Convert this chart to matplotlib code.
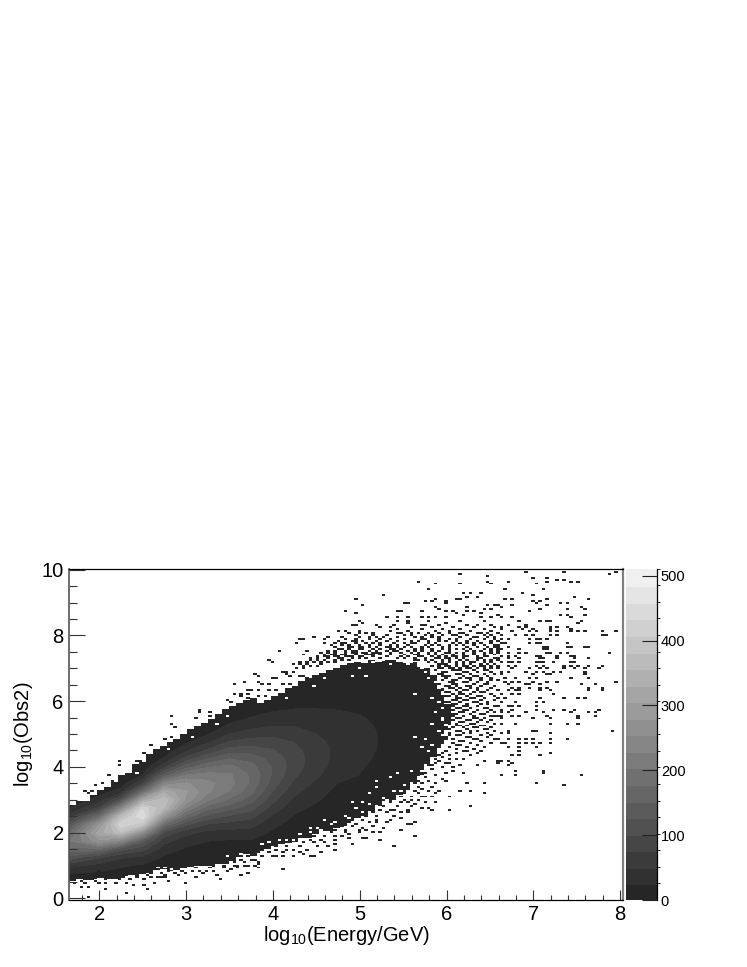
import numpy as np
import matplotlib
matplotlib.use("Agg")
import matplotlib.pyplot as plt
from matplotlib.colors import ListedColormap, BoundaryNorm
from matplotlib.patches import Polygon

plt.rcParams["font.family"] = ["Liberation Sans", "DejaVu Sans"]
plt.rcParams["mathtext.default"] = "regular"

# --- histogram binning / colour scale
X_BIN = 0.04
Y_BIN = 0.06
Z_MAX = 511
N_LEVELS = 20

# --- smooth core of the distribution, counts
core_y = [0.25, 0.5, 0.75, 1, 1.25, 1.5, 1.75, 2, 2.25, 2.5, 2.75, 3, 3.25, 3.5, 3.75,
          4, 4.25, 4.5, 4.75, 5, 5.25, 5.5, 5.75, 6, 6.25, 6.5, 6.75, 7, 7.25, 7.5]
core_x = [1.65, 2.0, 2.25, 2.5, 2.75, 3.0, 3.25, 3.5, 3.75, 4.0, 4.25, 4.5, 4.75, 5.0, 5.25, 6.25]
core_counts = [
    [2, 8, 24, 60, 118, 172, 200, 172, 118, 60, 24, 8, 2, 0, 0, 0, 0, 0, 0, 0, 0, 0, 0, 0, 0, 0, 0, 0, 0, 0],
    [0, 8, 20, 42, 80, 173, 274, 320, 274, 173, 80, 35, 15, 3, 0, 0, 0, 0, 0, 0, 0, 0, 0, 0, 0, 0, 0, 0, 0, 0],
    [0, 4, 12, 30, 55, 110, 240, 375, 430, 365, 235, 110, 36, 10, 3, 0, 0, 0, 0, 0, 0, 0, 0, 0, 0, 0, 0, 0, 0, 0],
    [0, 2, 8, 22, 45, 85, 135, 256, 388, 460, 428, 312, 174, 77, 26, 7, 0, 0, 0, 0, 0, 0, 0, 0, 0, 0, 0, 0, 0, 0],
    [0, 0, 4, 12, 22, 38, 60, 94, 176, 275, 355, 375, 325, 235, 140, 68, 29, 10, 3, 0, 0, 0, 0, 0, 0, 0, 0, 0, 0, 0],
    [0, 0, 3, 8, 14, 22, 36, 60, 107, 168, 228, 274, 284, 259, 205, 142, 87, 46, 21, 9, 3, 0, 0, 0, 0, 0, 0, 0, 0, 0],
    [0, 0, 2, 6, 10, 16, 26, 42, 74, 118, 163, 209, 235, 238, 216, 175, 127, 82, 48, 24, 11, 5, 2, 0, 0, 0, 0, 0, 0, 0],
    [0, 0, 0, 4, 6, 12, 23, 41, 67, 99, 138, 174, 202, 215, 209, 187, 153, 114, 80, 51, 29, 16, 8, 3, 0, 0, 0, 0, 0, 0],
    [0, 0, 0, 2, 7, 14, 24, 39, 60, 84, 112, 138, 161, 173, 174, 163, 144, 117, 89, 64, 42, 26, 16, 8, 4, 2, 0, 0, 0, 0],
    [0, 0, 0, 0, 0, 7, 12, 21, 32, 47, 65, 84, 101, 115, 124, 125, 117, 104, 88, 69, 50, 35, 22, 14, 8, 4, 2, 0, 0, 0],
    [0, 0, 0, 0, 0, 0, 6, 10, 15, 23, 33, 45, 58, 70, 81, 88, 90, 85, 76, 63, 50, 37, 26, 17, 11, 6, 3, 2, 0, 0],
    [0, 0, 0, 0, 0, 0, 0, 7, 10, 14, 20, 28, 35, 46, 55, 60, 62, 61, 57, 51, 42, 34, 26, 19, 13, 9, 5, 3, 0, 0],
    [0, 0, 0, 0, 0, 0, 0, 0, 5, 8, 11, 15, 19, 25, 35, 41, 44, 45, 44, 41, 36, 31, 25, 19, 14, 9, 6, 4, 2, 0],
    [0, 0, 0, 0, 0, 0, 0, 0, 0, 0, 6, 9, 13, 19, 25, 28, 31, 33, 33, 32, 30, 27, 23, 18, 14, 10, 7, 5, 3, 0],
    [0, 0, 0, 0, 0, 0, 0, 0, 0, 0, 0, 6, 9, 12, 15, 18, 21, 23, 24, 24, 23, 21, 18, 14, 11, 8, 5, 3, 0, 0],
    [0, 0, 0, 0, 0, 0, 0, 0, 0, 0, 0, 0, 0, 0, 0, 0, 0, 0, 0, 0, 0, 0, 0, 0, 0, 0, 0, 0, 0, 0],
]

# --- outline of the filled body, one entry every two bins
body_x = [1.655, 1.735, 1.815, 1.895, 1.975, 2.055, 2.135, 2.215, 2.295, 2.375, 2.455, 2.535, 2.615, 2.695,
          2.775, 2.855, 2.935, 3.015, 3.095, 3.175, 3.255, 3.335, 3.415, 3.495, 3.575, 3.655, 3.735, 3.815,
          3.895, 3.975, 4.055, 4.135, 4.215, 4.295, 4.375, 4.455, 4.535, 4.615, 4.695, 4.775, 4.855, 4.935,
          5.015, 5.095, 5.175, 5.255, 5.335, 5.415, 5.495, 5.575, 5.655, 5.735, 5.815, 5.895, 5.975]
body_top = [2.85, 2.95, 2.95, 3.15, 3.3, 3.38, 3.55, 3.75, 3.8, 4.1, 4.2, 4.4, 4.55, 4.65,
            4.75, 4.85, 5.0, 5.15, 5.25, 5.35, 5.45, 5.6, 5.75, 5.85, 5.95, 6.05, 6.1, 5.95,
            6.05, 6.15, 6.25, 6.4, 6.45, 6.6, 6.7, 6.8, 6.85, 6.95, 7.0, 7.1, 7.15, 7.2,
            7.2, 7.25, 7.2, 7.25, 7.25, 7.2, 7.15, 7.2, 7.05, 7.0, 6.8, 6.4, 5.9]
body_bottom = [0.52, 0.58, 0.55, 0.6, 0.62, 0.58, 0.6, 0.62, 0.7, 0.7, 0.74, 0.78, 0.85, 0.88,
               0.82, 0.85, 0.92, 0.95, 0.98, 1.0, 0.98, 1.05, 1.05, 1.15, 1.25, 1.35, 1.3, 1.45,
               1.5, 1.6, 1.65, 1.68, 1.72, 1.85, 1.85, 1.95, 2.05, 2.05, 2.15, 2.2, 2.35, 2.45,
               2.5, 2.65, 2.8, 2.95, 3.0, 3.15, 3.3, 3.55, 3.75, 4.1, 4.3, 4.7, 5.3]

# --- empty bins inside the body
hole_x = [4.93, 5.04, 5.08, 5.16, 5.2, 5.27, 5.35, 5.58, 5.56, 5.73, 5.77, 5.85, 5.91, 5.96, 4.93, 5.08, 5.0,
          4.6, 4.49, 4.15, 5.65, 5.94, 5.64, 5.91, 5.94, 5.73, 5.83, 5.45, 5.35, 5.18, 5.18, 5.12, 5.41, 5.31,
          5.2, 5.04, 4.93, 4.95, 5.04, 5.18, 4.82, 4.74, 4.58, 4.68, 4.54, 4.61, 4.43, 4.43, 4.08, 4.24, 3.89,
          5.58, 5.7, 5.73, 5.66, 2.68, 2.74, 2.51, 2.42, 3.47, 3.62, 3.16, 3.08, 2.82, 2.8, 3.06, 2.91, 3.36,
          3.47, 3.26, 3.16, 5.78, 5.86, 5.92, 5.96, 5.82, 5.9, 5.94, 5.88, 5.95, 5.84, 5.9, 5.96, 5.76, 5.8,
          5.5, 5.6, 5.46, 5.38, 5.28, 5.12, 5.0, 4.86, 4.72, 4.5, 4.32, 4.16, 3.96, 3.78]
hole_y = [7.22, 7.18, 7.18, 7.18, 7.3, 7.22, 7.12, 7.2, 7.12, 6.98, 6.9, 6.95, 6.82, 6.67, 6.78, 6.78, 6.98,
          6.72, 6.47, 6.08, 6.21, 6.29, 4.92, 5.07, 5.43, 4.62, 4.67, 3.82, 3.72, 3.58, 3.38, 3.24, 3.19, 3.0,
          2.94, 2.94, 2.89, 2.74, 2.64, 2.79, 2.48, 2.33, 2.36, 2.23, 2.08, 2.03, 2.16, 2.03, 1.77, 1.77, 1.65,
          3.65, 3.85, 4.0, 4.1, 0.91, 0.91, 4.18, 3.82, 1.27, 1.37, 0.96, 0.96, 0.88, 4.53, 4.87, 4.87, 5.32,
          5.58, 5.48, 5.48, 6.7, 6.55, 6.4, 6.22, 6.1, 5.95, 5.8, 5.65, 5.5, 5.3, 5.15, 4.98, 4.82, 4.5,
          3.45, 3.9, 3.3, 3.25, 3.05, 2.85, 2.6, 2.45, 2.3, 2.12, 1.95, 1.8, 1.7, 1.5]

# --- isolated filled bins: (y, [x, ...]) rows
far_rows = [
    (9.95, [6.93, 7.34, 7.94]), (9.88, [6.14, 7.86]), (9.81, [6.49]), (9.75, [6.99, 7.15]),
    (9.68, [7.26, 7.34]), (9.63, [5.69, 6.47, 6.73, 7.15, 7.45, 7.53]), (9.55, [5.88, 6.17, 7.03, 6.51]),
    (9.37, [5.8, 6.66, 7.11]), (9.3, [6.21, 6.29, 6.4, 6.89]), (9.23, [5.27, 7.0]), (9.17, [6.23, 6.36, 7.49]),
    (9.11, [4.94, 5.88, 6.1, 6.17, 6.66, 6.77, 7.15, 7.64]), (9.03, [5.76, 5.84, 5.99, 7.0, 7.07]),
    (8.97, [5.51, 5.55, 5.99, 7.03, 7.3, 7.41]), (8.9, [5.05, 6.48, 6.55, 6.61, 6.77, 7.17]),
    (8.84, [5.88, 6.25, 6.62, 7.56]), (8.78, [5.91, 6.42, 6.5, 7.07, 7.38, 7.6]),
    (8.72, [4.82, 5.44, 5.47, 5.72, 5.99, 6.25, 6.31, 6.06, 6.96]), (8.65, [4.94, 6.1, 6.4]),
    (8.6, [6.21, 6.6, 7.3, 7.38, 7.6]), (8.54, [5.31, 5.43, 5.54, 5.72, 5.8, 5.88, 5.99, 6.4, 6.52, 6.65, 6.77, 7.45]),
    (8.46, [5.01, 5.43, 5.54, 5.8, 6.14, 6.42, 6.83, 7.07, 7.15, 7.19, 7.56]), (8.4, [5.05, 5.54, 6.0, 7.52]),
    (8.33, [4.9, 4.94, 5.2, 5.39, 5.7, 5.76, 5.92, 6.22, 6.35, 6.5, 6.73, 6.9]),
    (8.27, [5.24, 5.35, 5.6, 5.84, 6.08, 6.3, 6.56, 6.63, 6.85, 6.9, 7.2, 7.26, 7.38]),
    (8.18, [5.43, 5.72, 5.95, 6.15, 6.45, 6.62, 6.88, 7.0, 7.19, 7.44]),
    (8.12, [4.75, 4.82, 5.0, 5.35, 5.55, 5.88, 6.05, 6.28, 6.52, 6.75, 6.96, 7.05, 7.19, 7.26, 7.43, 7.52, 7.6, 7.8, 7.94]),
    (8.05, [4.87, 4.98, 5.08, 5.48, 5.66, 5.8, 6.02, 6.2, 6.38, 6.58]),
    (8.0, [5.31, 5.5, 5.75, 5.95, 6.12, 6.45, 6.62, 6.8, 6.93, 7.0, 7.2, 7.27, 7.8, 7.84]),
    (7.95, [4.49, 4.64, 5.12, 5.2, 5.62, 5.85, 6.3, 6.55]),
    (7.9, [4.33, 4.37, 4.6, 4.85, 5.35, 5.7, 5.9, 6.1, 6.42, 6.62, 6.73, 6.96, 7.05, 7.07, 7.15]),
    (7.84, [4.95, 5.2, 5.6, 5.8, 6.0, 6.22, 6.52]),
    (7.78, [4.26, 4.6, 4.72, 4.79, 5.08, 5.25, 5.5, 5.65, 5.78, 6.15, 6.3, 6.4, 6.62, 6.69, 6.96, 7.03, 7.07, 7.38]),
    (7.72, [4.68, 4.98, 5.35, 5.85, 6.02, 6.2, 6.55]),
    (7.66, [4.87, 4.92, 5.05, 5.2, 5.3, 5.42, 5.52, 5.7, 5.95, 6.35, 6.48, 6.6, 6.73, 7.1, 7.14, 7.38, 7.45, 7.6, 7.63]),
    (7.6, [4.8, 5.0, 5.15, 5.4, 5.62, 5.82, 6.05, 6.18, 6.28, 6.58, 6.65, 6.82, 7.1, 7.14]),
    (7.55, [4.07, 4.41, 4.64, 4.7, 4.9, 5.1, 5.3, 5.45, 5.55, 5.72, 5.9, 6.38, 6.5]),
    (7.49, [4.56, 4.82, 4.95, 5.02, 5.2, 5.25, 5.35, 5.58, 5.78, 5.98, 6.1, 6.3, 6.42, 6.6, 6.7, 6.85, 6.92, 7.14, 7.2, 7.33, 7.4, 7.86]),
    (7.42, [4.37, 4.72, 4.85, 5.12, 5.62, 5.88, 6.2, 6.55]),
    (7.36, [4.52, 4.7, 4.75, 4.92, 5.05, 5.72, 5.82, 6.0, 6.12, 6.25, 6.35, 6.48, 6.62, 6.7, 6.8, 7.05, 7.08, 7.27, 7.44, 7.48]),
    (7.3, [4.5, 4.8, 4.9, 5.65, 5.92, 6.05, 6.4, 6.6, 6.72, 6.85, 7.07, 7.11, 7.27, 7.46, 7.63]),
    (7.24, [3.97, 4.52, 4.7, 5.75, 5.85, 6.15, 6.25, 6.5]),
    (7.18, [4.0, 4.33, 4.64, 4.72, 5.8, 5.95, 6.1, 6.3, 6.42, 6.62, 6.7, 6.75, 6.85, 7.05, 7.09, 7.11, 7.25, 7.42, 7.46]),
    (7.12, [4.25, 6.0, 6.2, 6.55]),
    (7.06, [4.45, 5.85, 5.98, 6.18, 6.3, 6.45, 6.52, 6.7, 6.78, 7.05, 7.1, 7.35, 7.42, 7.5, 7.62, 7.78]),
    (7.0, [4.29, 4.37, 5.9, 6.08, 6.15, 6.35, 6.5, 6.6, 6.75, 6.95, 7.08, 7.15, 7.36, 7.48, 7.6, 7.75]),
    (6.9, [4.12, 4.16, 4.24, 6.65, 6.72, 6.93, 7.05, 7.13, 7.25, 7.3, 7.6]),
    (6.8, [3.78, 4.14, 6.65, 7.0, 7.15, 7.2, 7.6]), (6.74, [3.83, 4.18, 4.31, 4.37]),
    (6.7, [4.0, 4.04, 4.41, 6.68, 6.8, 6.96, 7.03, 7.45, 7.62]),
    (6.6, [3.66, 3.83, 6.68, 6.75, 6.85, 7.0, 7.15, 7.27, 7.96]),
    (6.5, [3.54, 3.87, 3.97, 4.12, 4.18, 6.7, 6.9, 6.95, 7.08, 7.55, 7.72]),
    (6.4, [6.75, 6.82, 6.95, 7.08, 7.17, 7.63, 7.78]),
    (6.32, [3.7, 3.76, 3.83, 3.95, 4.02, 6.7, 6.78, 6.82, 7.06, 7.08, 7.18, 7.65, 7.8]),
    (6.24, [3.54, 3.62, 3.72, 6.65, 6.75, 6.82, 7.25]), (6.18, [3.62, 3.85, 3.93]),
    (6.1, [3.72, 6.6, 6.68, 7.07, 7.37, 7.52, 7.6]), (6.05, [3.49]), (5.98, [3.53, 6.65, 6.78, 7.04, 7.1]),
    (5.85, [6.6, 6.7, 6.75, 6.85, 7.04]), (5.76, [3.14, 6.62, 6.75, 7.05, 7.25, 7.37, 7.48, 7.74]),
    (5.65, [3.14, 3.26, 6.62, 6.7, 6.9, 7.1, 7.45, 7.64, 7.7]), (5.56, [2.83, 3.28, 6.6, 6.65, 6.75, 6.85, 7.15, 7.52, 7.72]),
    (5.48, [3.1, 6.62, 7.0, 7.2, 7.52]), (5.3, [2.85, 6.65, 6.78, 7.2, 7.4, 7.5]), (5.17, [2.87]),
    (5.1, [6.7, 6.98, 7.02, 7.9]), (5.0, [6.62, 6.65, 6.72, 7.18]), (4.92, [2.82]),
    (4.85, [2.76, 6.6, 6.7, 6.85, 6.9, 6.98, 7.18, 7.4]), (4.72, [6.62, 6.68, 6.82, 6.93, 7.0, 7.08, 7.2]),
    (4.67, [2.6]), (4.6, [6.7, 6.85, 7.03]), (4.46, [6.23, 6.85]), (4.41, [2.51, 6.35, 7.18]),
    (4.36, [5.73, 6.77, 6.85, 7.07]), (4.26, [6.04, 6.18]), (4.2, [2.43, 6.6, 6.63]), (4.16, [2.24, 6.44, 6.7]),
    (4.1, [5.98, 6.77, 6.58]), (4.04, [2.24, 5.83, 6.14, 6.37, 6.7]), (3.9, [6.08, 6.81, 7.11]), (3.84, [7.11]),
    (3.8, [6.2]), (3.76, [2.12, 6.62, 6.63, 6.81, 7.56]), (3.6, [2.14, 5.66, 5.81, 6.0]), (3.54, [2.05, 6.25, 6.44]),
    (3.5, [5.89, 7.03]), (3.45, [1.97, 7.34]), (3.35, [5.73]), (3.3, [1.91, 5.93, 6.14, 6.29]), (3.25, [1.82]),
    (3.2, [1.89, 6.44]), (3.1, [5.7, 5.77, 6.02]), (3.0, [5.58]), (2.9, [5.75, 5.87]), (2.84, [5.64]),
    (2.79, [6.29]), (2.74, [5.73, 5.81]), (2.68, [5.39, 5.84, 6.02]), (2.6, [5.54]), (2.43, [5.46]),
    (2.33, [5.31, 5.64]), (2.23, [4.96, 5.54, 5.58]), (2.16, [5.04, 5.29]), (2.1, [5.08, 5.49]), (2.03, [5.16, 5.25]),
    (1.93, [4.87]), (1.9, [4.78, 5.65]), (1.86, [4.89]), (1.82, [5.02, 5.06]), (1.77, [5.23]), (1.67, [4.7]),
    (1.64, [4.93]), (1.57, [4.62, 5.39]), (1.47, [4.22, 4.72]), (1.39, [4.56]), (1.37, [4.37]),
    (1.32, [4.1, 4.25, 4.45, 4.47]), (1.27, [3.89, 4.04]), (1.2, [3.76]), (1.06, [3.84]), (1.01, [3.61, 3.72, 3.79]),
    (0.94, [3.85]), (0.88, [3.51, 4.11]), (0.84, [3.16]), (0.81, [2.0, 3.24]), (0.76, [3.72]), (0.71, [3.35]),
    (0.68, [3.64]), (0.66, [2.66, 2.76]), (0.61, [3.1]), (0.56, [3.39]), (0.54, [2.8]), (0.51, [1.78]),
    (0.5, [1.95]), (0.47, [2.64]), (0.45, [2.08, 2.2]), (0.43, [1.72, 2.99]), (0.41, [2.38, 2.53]),
    (0.35, [1.81, 1.89]), (0.3, [2.08]), (0.27, [2.57]), (0.15, [2.31]), (0.05, [1.86]),
]

# --- broken-up right flank of the body: (y, [x, ...]) rows
flank_rows = [
    (7.0, [5.92, 5.96, 6.02, 6.24, 6.28, 6.42]), (6.94, [5.88, 6.06, 6.12, 6.16, 6.32, 6.44, 6.48]),
    (6.88, [5.96, 6.0, 6.2, 6.24, 6.36, 6.5]), (6.82, [5.9, 5.94, 6.1, 6.14, 6.26, 6.42, 6.54]),
    (6.76, [5.94, 6.0, 6.04, 6.18, 6.3, 6.34, 6.46]), (6.7, [5.86, 5.98, 6.14, 6.22, 6.26, 6.38, 6.52]),
    (6.64, [5.94, 6.08, 6.12, 6.26, 6.4, 6.5, 6.58]), (6.58, [6.02, 6.06, 6.18, 6.22, 6.34, 6.46]),
    (6.52, [5.92, 6.06, 6.1, 6.3, 6.42, 6.46]), (6.46, [5.98, 6.02, 6.12, 6.22, 6.26, 6.38, 6.54]),
    (6.4, [6.04, 6.08, 6.16, 6.26, 6.36, 6.5]), (6.34, [5.96, 6.1, 6.18, 6.22, 6.34, 6.46, 6.58]),
    (6.28, [6.0, 6.04, 6.14, 6.3, 6.4, 6.44]), (6.22, [5.92, 6.06, 6.14, 6.18, 6.28, 6.5]),
    (6.16, [5.98, 6.02, 6.1, 6.22, 6.34, 6.38, 6.54]), (6.1, [5.96, 6.1, 6.14, 6.26, 6.3, 6.44]),
    (6.04, [6.06, 6.1, 6.18, 6.22, 6.38, 6.54]), (5.98, [6.0, 6.04, 6.14, 6.3, 6.34, 6.46]),
    (5.92, [5.94, 6.08, 6.12, 6.24, 6.4, 6.48]), (5.86, [6.02, 6.06, 6.18, 6.22, 6.34, 6.56]),
    (5.8, [5.98, 6.1, 6.14, 6.28, 6.42, 6.46]), (5.74, [6.0, 6.06, 6.2, 6.24, 6.36, 6.5]),
    (5.68, [6.04, 6.14, 6.18, 6.32, 6.46, 6.54]), (5.62, [5.96, 6.08, 6.12, 6.26, 6.38, 6.42]),
    (5.56, [6.02, 6.06, 6.18, 6.3, 6.5, 6.56]), (5.5, [5.98, 6.1, 6.14, 6.3, 6.34, 6.42]),
    (5.44, [5.98, 6.06, 6.22, 6.26, 6.38, 6.52]), (5.38, [6.02, 6.14, 6.18, 6.34, 6.46]),
    (5.32, [5.96, 6.02, 6.1, 6.26, 6.3, 6.54]), (5.26, [5.94, 6.1, 6.14, 6.22, 6.38, 6.44]),
    (5.2, [5.98, 6.06, 6.18, 6.3, 6.34, 6.5]), (5.14, [5.9, 6.0, 6.04, 6.24, 6.42, 6.46]),
    (5.08, [5.96, 6.1, 6.14, 6.26, 6.34, 6.56]), (5.02, [5.96, 6.04, 6.2, 6.28, 6.48]),
    (4.96, [5.92, 6.04, 6.12, 6.16, 6.38, 6.52]), (4.9, [5.94, 5.98, 6.22, 6.26, 6.46]),
    (4.84, [5.86, 6.0, 6.08, 6.3, 6.34, 6.54]), (4.78, [5.88, 5.92, 6.16, 6.2, 6.4]),
    (4.72, [5.84, 5.96, 6.06, 6.26, 6.5]), (4.66, [5.86, 5.9, 6.12, 6.16, 6.34]),
    (4.6, [5.82, 5.92, 6.02, 6.22, 6.44]), (4.54, [5.78, 5.88, 6.1, 6.3]),
    (4.48, [5.76, 5.84, 5.98, 6.18, 6.4]), (4.42, [5.72, 5.8, 5.94, 6.1]),
    (4.36, [5.68, 5.76, 5.9, 6.02, 6.26]), (4.3, [5.64, 5.78, 5.96]), (4.24, [5.62, 5.7, 5.86, 6.1]),
    (4.18, [5.6, 5.78, 5.92]), (4.12, [5.66, 5.72, 5.88, 6.02]), (4.06, [5.56, 5.68, 5.8]),
    (3.98, [5.6, 5.7, 5.94, 6.06]), (3.92, [5.54, 5.66, 5.84]), (3.84, [5.5, 5.62, 5.76, 5.98]),
    (3.76, [5.52, 5.66, 5.88]), (3.7, [5.46, 5.6, 5.74]), (3.62, [5.52, 5.58, 5.94]),
]

# --- crown above the solid top edge: (y, [x, ...]) rows
crown_rows = [
    (8.08, [5.14, 5.42, 5.6, 5.92, 6.16, 6.34, 6.48]), (8.02, [4.94, 5.16, 5.58, 5.84, 6.08, 6.24, 6.5]),
    (7.96, [4.8, 5.0, 5.28, 5.44, 5.72, 5.92, 6.16, 6.36, 6.48]), (7.9, [4.96, 5.1, 5.24, 5.52, 5.76, 6.02, 6.26, 6.54]),
    (7.84, [4.76, 4.9, 5.04, 5.3, 5.44, 5.68, 5.92, 6.12, 6.36, 6.6]),
    (7.78, [4.84, 4.94, 5.14, 5.38, 5.6, 5.88, 6.08, 6.24, 6.5]),
    (7.72, [4.78, 4.88, 5.1, 5.22, 5.44, 5.56, 5.74, 5.92, 6.12, 6.3, 6.44, 6.6]),
    (7.66, [4.72, 4.98, 5.12, 5.36, 5.6, 5.8, 6.04, 6.22, 6.54]),
    (7.6, [4.74, 4.86, 5.04, 5.24, 5.34, 5.48, 5.7, 5.94, 6.12, 6.44, 6.52]),
    (7.55, [4.62, 4.84, 4.96, 5.18, 5.38, 5.64, 5.84, 6.02, 6.22, 6.3, 6.58]),
    (7.49, [4.62, 4.72, 4.9, 5.08, 5.14, 5.46, 5.66, 5.86, 6.04, 6.2, 6.5]),
    (7.42, [4.6, 4.66, 4.8, 4.96, 5.06, 5.16, 5.24, 5.36, 5.5, 5.68, 5.78, 5.96, 6.08, 6.3, 6.42]),
    (7.36, [4.58, 4.64, 4.82, 4.88, 5.0, 5.16, 5.3, 5.46, 5.56, 5.66, 5.9, 6.06, 6.18, 6.42]),
    (7.3, [4.42, 4.62, 4.74, 5.0, 5.08, 5.24, 5.42, 5.5, 5.74, 5.86, 5.98, 6.1, 6.2, 6.34, 6.54]),
    (7.24, [4.44, 4.6, 4.78, 4.86, 5.62, 5.68, 5.94, 6.04, 6.34, 6.44, 6.58]),
    (7.18, [4.38, 4.48, 4.56, 5.86, 6.04, 6.18, 6.26, 6.5]),
    (7.12, [4.3, 4.4, 4.54, 5.9, 5.96, 6.12, 6.26, 6.38, 6.48]),
    (7.06, [4.34, 4.5, 5.92, 6.04, 6.12, 6.24, 6.38, 6.58]),
]

# --- broken-up lower edge of the body: (y, [x, ...]) rows
lower_rows = [
    (3.5, [5.5, 5.62, 5.7]), (3.4, [5.42, 5.56, 5.68, 5.84]), (3.3, [5.44, 5.5, 5.62, 5.8]),
    (3.2, [5.38, 5.52, 5.66, 5.86]), (3.1, [5.3, 5.46, 5.6, 5.84]), (3.0, [5.26, 5.36, 5.5, 5.66]),
    (2.9, [5.2, 5.34, 5.48, 5.54]), (2.8, [5.12, 5.26, 5.42, 5.6]), (2.7, [5.08, 5.22, 5.34, 5.56]),
    (2.6, [5.0, 5.14, 5.3, 5.46]), (2.5, [4.9, 5.08, 5.2, 5.38]), (2.4, [4.86, 5.02, 5.18, 5.34]),
    (2.3, [4.76, 4.86, 5.1, 5.2]), (2.2, [4.66, 4.8, 4.92, 5.14]), (2.1, [4.6, 4.72, 4.84, 4.98]),
    (2.0, [4.5, 4.66, 4.82, 5.0]), (1.9, [4.36, 4.48, 4.6, 4.72]), (1.8, [4.28, 4.42, 4.56, 4.7]),
    (1.7, [4.06, 4.18, 4.34, 4.46, 4.58]), (1.6, [3.9, 4.02, 4.16, 4.3, 4.5]), (1.5, [3.78, 3.88, 4.02, 4.14, 4.4]),
    (1.4, [3.7, 3.82, 3.96, 4.12, 4.3]), (1.3, [3.56, 3.7, 3.86, 3.98]), (1.2, [3.5, 3.62, 3.8]),
    (1.1, [3.4, 3.54, 3.68, 3.82]), (1.0, [3.3, 3.42, 3.54, 3.66]), (0.92, [3.1, 3.26, 3.42, 3.58]),
    (0.84, [2.8, 2.94, 3.06, 3.3, 3.46]), (0.76, [2.6, 2.72, 2.88, 3.0, 3.2]), (0.7, [2.3, 2.44, 2.56, 2.74, 2.9]),
    (0.62, [2.16, 2.28, 2.42, 2.6, 2.7]), (0.55, [1.9, 2.06, 2.22, 2.34, 2.5]), (0.48, [1.7, 1.84, 2.0, 2.3]),
]

x_ticks = [2, 3, 4, 5, 6, 7, 8]
y_ticks = [0, 2, 4, 6, 8, 10]
z_ticks = [0, 100, 200, 300, 400, 500]

fig = plt.figure(figsize=(7.47, 9.67), dpi=100)
ax = fig.add_axes([69.3 / 747, 1 - 900 / 967, (623 - 69.3) / 747, (900 - 568.7) / 967])
cax = fig.add_axes([626.3 / 747, 1 - 900 / 967, (657.3 - 626.3) / 747, (900 - 568.7) / 967])

greys = np.linspace(0.15, 0.94, N_LEVELS)
cmap = ListedColormap([(g, g, g) for g in greys])
levels = np.linspace(0, Z_MAX, N_LEVELS + 1)
norm = BoundaryNorm(levels, cmap.N)

x_edges = 1.655 + X_BIN * np.arange(161)
y_edges = -0.05 + Y_BIN * np.arange(169)

# core, clipped to the stepped outline of the body
cs = ax.contourf(core_x, core_y, np.array(core_counts).T, levels=levels, cmap=cmap, norm=norm)
step_x = np.repeat(np.append(body_x, body_x[-1] + 2 * X_BIN), 2)[1:-1]
outline = np.column_stack([
    np.concatenate([step_x, step_x[::-1]]),
    np.concatenate([np.repeat(body_top, 2), np.repeat(body_bottom, 2)[::-1]]),
])
clip = Polygon(outline, closed=True, transform=ax.transData, facecolor="none", edgecolor="none")
ax.add_patch(clip)
cs.set_clip_path(clip)

# holes and isolated bins snap onto the histogram grid
holes, _, _ = np.histogram2d(hole_x, hole_y, bins=[x_edges, y_edges])
ax.pcolormesh(x_edges, y_edges, np.ma.masked_equal(holes.T, 0),
              cmap=ListedColormap(["white"]), vmin=0, vmax=1)

speck_x, speck_y = [], []
for y, xs in far_rows + flank_rows + crown_rows + lower_rows:
    speck_x += xs
    speck_y += [y] * len(xs)
specks, _, _ = np.histogram2d(speck_x, speck_y, bins=[x_edges, y_edges])
ax.pcolormesh(x_edges, y_edges, np.ma.masked_equal(specks.T, 0), cmap=cmap, norm=norm)

ax.set_xlim(1.655, 8.033)
ax.set_ylim(-0.049, 10.03)
ax.set_xticks(x_ticks)
ax.set_yticks(y_ticks)
ax.set_xticks(np.arange(1.8, 8.01, 0.2), minor=True)
ax.set_yticks(np.arange(0, 10.01, 0.5), minor=True)
ax.tick_params(axis="x", which="major", direction="in", length=7.5, width=0.8, labelsize=14.5, pad=3.5, color="#333333")
ax.tick_params(axis="x", which="minor", direction="in", length=3.8, width=0.8, color="#333333")
ax.tick_params(axis="y", which="major", direction="in", length=11.5, width=0.8, labelsize=14.5, pad=4, color="#333333")
ax.tick_params(axis="y", which="minor", direction="in", length=5.8, width=0.8, color="#333333")
ax.set_xlabel("log$_{10}$(Energy/GeV)", fontsize=14.5, labelpad=0)
ax.set_ylabel("log$_{10}$(Obs2)", fontsize=14.5, labelpad=5)
ax.spines["left"].set(color="#555555", linewidth=1.2)
ax.spines["right"].set(color="#808080", linewidth=1.6)
for side in ("top", "bottom"):
    ax.spines[side].set(color="black", linewidth=0.9)

cb = fig.colorbar(cs, cax=cax, ticks=z_ticks)
cb.outline.set_visible(False)
cb.solids.set_edgecolor("face")
cax.set_ylim(0, Z_MAX)
cax.spines["right"].set_visible(True)
cax.spines["right"].set(color="black", linewidth=0.9)
cax.tick_params(direction="in", length=11, width=0.8, labelsize=10.5, pad=2.5, color="#222222")

fig.savefig("out.png", dpi=100)
